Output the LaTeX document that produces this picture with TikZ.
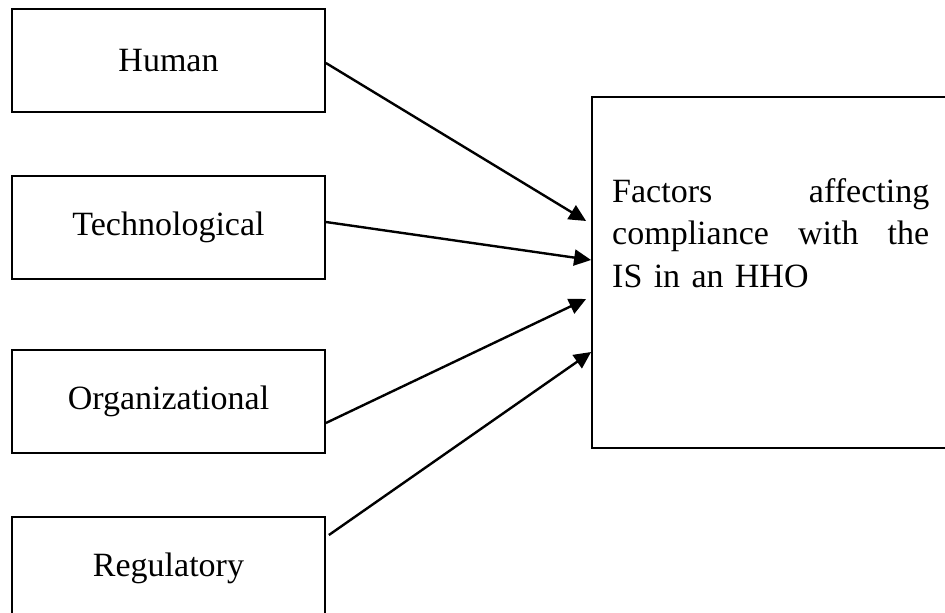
\documentclass[tikz,border=0pt]{standalone}
\usepackage{fontspec}
\setmainfont{Liberation Serif}
\usetikzlibrary{arrows.meta}

\tikzset{
  factor/.style={draw, line width=1.8pt, minimum width=313pt, minimum height=103pt,
    inner sep=0pt, font=\fontsize{34}{42.5}\selectfont},
  target/.style={draw, line width=1.8pt, minimum width=370pt, minimum height=351pt, inner sep=0pt},
  arr/.style={line width=2.4pt, -{Triangle[length=17pt,width=16pt]}}
}

\begin{document}
\begin{tikzpicture}[x=1pt, y=-1pt]
  \useasboundingbox (0,0) rectangle (945,613);
  \clip (0,0) rectangle (945,613);

  % influencing factors
  \node[factor] (hum) at (168.5,60.5)  {Human};
  \node[factor] (tec) at (168.5,227.5) {Technological};
  \node[factor] (org) at (168.5,401.5) {Organizational};
  \node[factor] (reg) at (168.5,568.5) {Regulatory};

  % outcome box (runs past the right edge)
  \node[target] (fac) at (777,272.5) {};
  \node[anchor=base west, inner sep=0pt, text width=317pt, align=left,
        font=\fontsize{34}{42.5}\selectfont] (factxt) at (612,202)
    {Factors\hfill affecting\\
     compliance\hfill with\hfill the\\
     IS in an HHO};

  % connectors
  \draw[arr] ([yshift=-2.5pt]hum.east) -- ([xshift=-5pt,yshift=51.5pt]fac.west);
  \draw[arr] ([yshift=5.5pt]tec.east)  -- ([yshift=12.5pt]fac.west);
  \draw[arr] ([yshift=-21.5pt]org.east) -- ([xshift=-5pt,yshift=-26.5pt]fac.west);
  \draw[arr] ([xshift=3pt,yshift=33.5pt]reg.east) -- ([yshift=-79.5pt]fac.west);
\end{tikzpicture}
\end{document}
